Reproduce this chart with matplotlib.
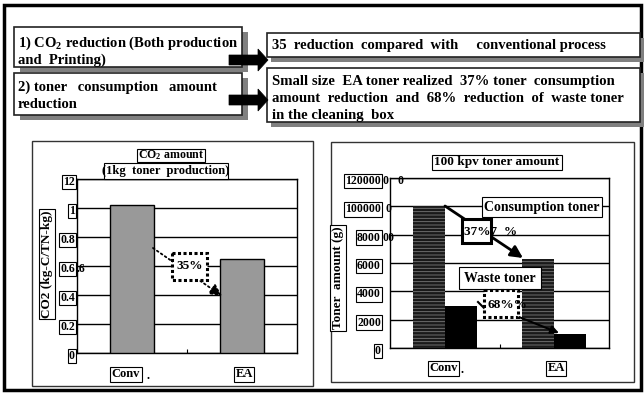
import matplotlib
matplotlib.use('Agg')
import matplotlib.pyplot as plt
import matplotlib.transforms as mtrans
from matplotlib.patches import Rectangle, Polygon
import numpy as np

plt.rcParams['font.family'] = ['Liberation Serif', 'DejaVu Serif']
plt.rcParams['font.weight'] = 'bold'
plt.rcParams['mathtext.fontset'] = 'custom'
plt.rcParams['mathtext.rm'] = 'Liberation Serif:bold'
plt.rcParams['mathtext.it'] = 'Liberation Serif:bold'
plt.rcParams['mathtext.bf'] = 'Liberation Serif:bold'
plt.rcParams['hatch.linewidth'] = 0.6

# ---------------- data ----------------
co2_categories = ['Conv', 'EA']
co2_values = [1.02, 0.65]
co2_yticks = [0, 0.2, 0.4, 0.6, 0.8, 1.0, 1.2]
co2_ytick_labels = ['0', '0.2', '0.4', '0.6.6', '0.8', '1', '12']
co2_label_boxed = [1, 3, 3, 3, 3, 1, 2]   # characters inside the label box

toner_categories = ['Conv', 'EA']
consumption_toner = [10000, 6300]
waste_toner = [3000, 960]
toner_yticks = [0, 2000, 4000, 6000, 8000, 10000, 12000]
toner_ytick_labels = ['0', '2000', '4000', '6000', '800000', '100000 0', '1200000   0']
toner_label_boxed = [1, 4, 4, 4, 4, 6, 6]

box1_text = ['1) CO$_2$ reduction (Both production', 'and  Printing)']
box2_text = ['2) toner   consumption   amount', 'reduction']
res1_text = ['35  reduction  compared  with     conventional process']
res2_text = ['Small size  EA toner realized  37% toner  consumption',
             'amount  reduction  and  68%  reduction  of  waste toner',
             'in the cleaning  box']

W, H = 644, 393
fig = plt.figure(figsize=(W / 100, H / 100), dpi=100)


def frac(x0, y0, x1, y1):
    return [x0 / W, 1 - y1 / H, (x1 - x0) / W, (y1 - y0) / H]


bg = fig.add_axes([0, 0, 1, 1], zorder=0)
bg.set_xlim(0, W); bg.set_ylim(H, 0); bg.axis('off')

ov = fig.add_axes([0, 0, 1, 1], zorder=20)
ov.set_xlim(0, W); ov.set_ylim(H, 0); ov.axis('off'); ov.patch.set_alpha(0)

# outer frame
bg.add_patch(Rectangle((4, 5), 637, 385, fill=False, lw=2.5, ec='black'))

# ---------------- top boxes ----------------
def shadow_box(x0, y0, x1, y1, dx=6, dy=5):
    ov.add_patch(Rectangle((x0 + dx, y0 + dy), x1 - x0, y1 - y0, fc='#808080', ec='none', zorder=1))
    ov.add_patch(Rectangle((x0, y0), x1 - x0, y1 - y0, fc='white', ec='#222222', lw=1.2, zorder=2))


def lines(x, ys, texts, fs=10.5):
    for y, t in zip(ys, texts):
        ov.text(x, y, t, ha='left', va='center', fontsize=fs, zorder=5)


shadow_box(14, 27, 242, 67)
shadow_box(14, 73, 242, 115)
shadow_box(267, 33, 640, 57, dx=4)
shadow_box(267, 68, 640, 122, dx=4)
lines(18, [43, 60], box1_text)
lines(18, [87, 104], box2_text)
lines(272, [46], res1_text)
lines(272, [81, 98, 115], res2_text, fs=10.6)


def block_arrow(y):
    pts = [(229, y - 5), (258, y - 5), (258, y - 11), (268, y), (258, y + 11), (258, y + 5), (229, y + 5)]
    ov.add_patch(Polygon(pts, closed=True, fc='black', ec='black', lw=0.5, zorder=6))


block_arrow(60)
block_arrow(100)

# panel frames
bg.add_patch(Rectangle((32, 141), 281, 245, fill=False, lw=1, ec='#333333'))
bg.add_patch(Rectangle((331, 142), 303, 240, fill=False, lw=1, ec='#333333'))

lbl_box = dict(boxstyle='square,pad=0.12', fc='white', ec='black', lw=0.8)

# ---------------- left chart ----------------
ax1 = fig.add_axes(frac(77, 179, 297, 353), zorder=5)
x1 = np.arange(len(co2_categories))
ax1.bar(x1, co2_values, width=0.4, color='#999999', edgecolor='black', lw=1, zorder=3)
ax1.set_xlim(-0.5, 1.5)
ax1.set_ylim(0, 1.2)
ax1.set_yticks(co2_yticks)
ax1.set_xticks([0.5])
ax1.tick_params(axis='y', left=False, labelleft=False)
ax1.tick_params(axis='x', direction='in', length=3, labelbottom=False)
ax1.yaxis.grid(True, color='black', lw=1)
ax1.set_axisbelow(True)
for s in ax1.spines.values():
    s.set_linewidth(1)

tr1 = mtrans.offset_copy(mtrans.blended_transform_factory(bg.transData, ax1.transData),
                         fig=fig, x=0, y=-3, units='dots')
for v, s, n in zip(co2_yticks, co2_ytick_labels, co2_label_boxed):
    ov.text(75, v, s[:n], transform=tr1, ha='right', va='center', fontsize=8.5, bbox=lbl_box)
    if s[n:]:
        ov.text(77, v, s[n:], transform=tr1, ha='left', va='center', fontsize=8.5)

trx1 = mtrans.blended_transform_factory(ax1.transData, bg.transData)
ov.text(0, 374, co2_categories[0], transform=mtrans.offset_copy(trx1, fig=fig, x=-6, y=0, units='dots'),
        ha='center', va='center', fontsize=9, bbox=lbl_box)
ov.text(0, 376, '.', transform=mtrans.offset_copy(trx1, fig=fig, x=16, y=0, units='dots'),
        ha='center', va='center', fontsize=9)
ov.text(1, 374, co2_categories[1], transform=mtrans.offset_copy(trx1, fig=fig, x=2, y=0, units='dots'),
        ha='center', va='center', fontsize=9, bbox=lbl_box)

ov.text(47, 264, 'CO2 (kg-C/TN-kg)', rotation=90, ha='center', va='center', fontsize=9.5, bbox=lbl_box)

ov.add_patch(Rectangle((137, 149), 68, 13, fc='white', ec='black', lw=0.8))
ov.text(171, 155.5, 'CO$_2$ amount', ha='center', va='center', fontsize=8.6)
ov.add_patch(Rectangle((104, 163), 124, 16, fc='white', ec='black', lw=0.8))
ov.text(166, 171, '(1kg  toner  production)', ha='center', va='center', fontsize=9)

ov.annotate('', xy=(222, 296), xytext=(153, 248),
            arrowprops=dict(arrowstyle='-|>', linestyle=':', lw=1.3, color='black',
                            mutation_scale=18, shrinkA=0, shrinkB=0))
ov.add_patch(Rectangle((172, 253), 35, 27, fc='white', ec='black', lw=2.2, ls=(0, (1, 0.8)), zorder=3))
ov.text(190, 266, '35%', ha='center', va='center', fontsize=9.5, zorder=4)

# ---------------- right chart ----------------
ax2 = fig.add_axes(frac(390, 178, 609, 348), zorder=5)
x2 = np.arange(len(toner_categories))
bw = 0.29
ax2.bar(x2 - bw / 2, consumption_toner, width=bw, color='#1a1a1a', edgecolor='#7a7a7a',
        hatch='-----', lw=0, zorder=3)
ax2.bar(x2 + bw / 2, waste_toner, width=bw, color='black', edgecolor='black', lw=0, zorder=3)
ax2.set_xlim(-0.5, 1.5)
ax2.set_ylim(0, 12000)
ax2.set_yticks(toner_yticks)
ax2.set_xticks([0.5])
ax2.tick_params(axis='y', left=False, labelleft=False)
ax2.tick_params(axis='x', direction='in', length=3, labelbottom=False)
ax2.yaxis.grid(True, color='black', lw=1)
ax2.set_axisbelow(True)
for s in ax2.spines.values():
    s.set_linewidth(1)

tr2 = mtrans.offset_copy(mtrans.blended_transform_factory(bg.transData, ax2.transData),
                         fig=fig, x=0, y=-3, units='dots')
for v, s, n in zip(toner_yticks, toner_ytick_labels, toner_label_boxed):
    ov.text(381, v, s[:n], transform=tr2, ha='right', va='center', fontsize=8.5, bbox=lbl_box)
    if s[n:]:
        ov.text(383, v, s[n:], transform=tr2, ha='left', va='center', fontsize=8.5)

trx2 = mtrans.blended_transform_factory(ax2.transData, bg.transData)
ov.text(0, 368, toner_categories[0], transform=mtrans.offset_copy(trx2, fig=fig, x=-1, y=0, units='dots'),
        ha='center', va='center', fontsize=9, bbox=lbl_box)
ov.text(0, 370, '.', transform=mtrans.offset_copy(trx2, fig=fig, x=17, y=0, units='dots'),
        ha='center', va='center', fontsize=9)
ov.text(1, 368, toner_categories[1], transform=mtrans.offset_copy(trx2, fig=fig, x=2, y=0, units='dots'),
        ha='center', va='center', fontsize=9, bbox=lbl_box)

ov.text(338, 278, 'Toner  amount (g)', rotation=90, ha='center', va='center', fontsize=9.5, bbox=lbl_box)

ov.add_patch(Rectangle((432, 155), 130, 15, fc='white', ec='black', lw=0.8))
ov.text(497, 162.5, '100 kpv toner amount', ha='center', va='center', fontsize=9.5)

ov.annotate('', xy=(523, 258), xytext=(445, 206),
            arrowprops=dict(arrowstyle='-|>', lw=2, color='black', mutation_scale=18, shrinkA=0, shrinkB=0))
ov.annotate('', xy=(559, 333), xytext=(519, 317),
            arrowprops=dict(arrowstyle='-|>', lw=1.5, color='black', mutation_scale=12, shrinkA=0, shrinkB=0))
ov.plot([478, 484], [302, 308], color='black', lw=1.5)

ov.add_patch(Rectangle((482, 197), 120, 20, fc='white', ec='black', lw=0.8, zorder=3))
ov.text(542, 207, 'Consumption toner', ha='center', va='center', fontsize=10, zorder=4)
ov.add_patch(Rectangle((462, 219), 29, 24, fc='white', ec='black', lw=2.2, zorder=3))
ov.text(464, 232, '37%7  %', ha='left', va='center', fontsize=9.5, zorder=4)
ov.add_patch(Rectangle((459, 267), 82, 22, fc='white', ec='black', lw=0.8, zorder=3))
ov.text(500, 278, 'Waste toner', ha='center', va='center', fontsize=10, zorder=4)
ov.add_patch(Rectangle((484, 290), 34, 27, fc='white', ec='black', lw=2.2, ls=(0, (1, 0.8)), zorder=3))
ov.text(488, 305, '68%%', ha='left', va='center', fontsize=9.5, zorder=4)

fig.savefig('out.png', dpi=100)
